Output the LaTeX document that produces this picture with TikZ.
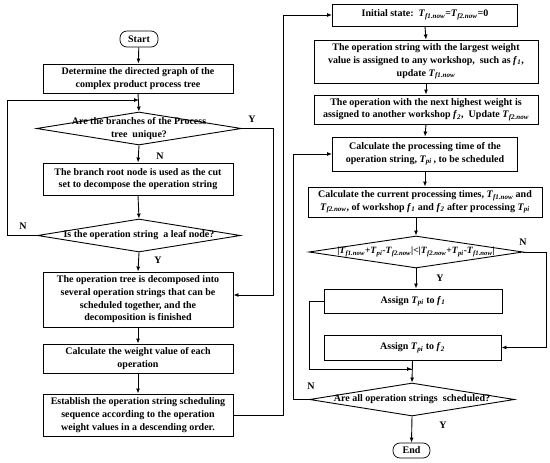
\documentclass[tikz,border=0pt]{standalone}
\usepackage{fontspec}
\setmainfont{Liberation Serif}
\usetikzlibrary{shapes.geometric,arrows.meta}
\newcommand\Tsb[1]{\textit{T}\textsubscript{\textit{#1}}}
\newcommand\fsb[1]{\textit{f}\textsubscript{\textit{#1}}}
\begin{document}
\begin{tikzpicture}[x=1pt,y=-1pt,
  every node/.style={font=\bfseries\fontsize{10}{12.7}\selectfont},
  box/.style={draw,line width=0.9pt,rectangle,inner sep=1pt,align=center},
  term/.style={draw,line width=0.7pt,rounded corners=7pt,inner sep=1pt},
  dia/.style={draw,line width=0.9pt,diamond,inner sep=0pt},
  txt/.style={inner sep=0pt,align=center},
  lab/.style={inner sep=0pt,font=\bfseries\fontsize{10}{12}\selectfont},
  arr/.style={line width=0.9pt,-{Latex[length=5pt,width=4pt]}},
  ln/.style={line width=0.9pt}]
\useasboundingbox (0,0) rectangle (550,463);
% left column
\node[term,minimum width=38pt,minimum height=16pt] (start) at (139,39) {Start};
\node[box,minimum width=190pt,minimum height=29pt] (b1) at (138,78.5) {Determine the directed graph of the\\complex product process tree};
\node[dia,minimum width=205pt,minimum height=33pt] (d1) at (139,128.5) {};
\node[txt] (d1t) at (139,128.5) {Are the branches of the Process\\tree\ \ unique?};
\node[box,minimum width=190pt,minimum height=32pt] (b2) at (138,179) {The branch root node is used as the cut\\set to decompose the operation string};
\node[dia,minimum width=203pt,minimum height=33pt] (d2) at (139,235.5) {};
\node[txt] (d2t) at (139,235.5) {Is the operation string\ \ a leaf node?};
\node[box,minimum width=190pt,minimum height=55pt] (b3) at (138,299.5) {The operation tree is decomposed into\\several operation strings that can be\\scheduled together, and the\\decomposition is finished};
\node[box,minimum width=190pt,minimum height=29pt] (b4) at (138,358.5) {Calculate the weight value of each\\operation};
\node[box,minimum width=190pt,minimum height=42pt] (b5) at (138,415) {Establish the operation string scheduling\\sequence according to the operation\\weight values in a descending order.};
% right column
\node[box,minimum width=185pt,minimum height=22pt] (r1) at (425,15) {Initial state:\enspace\Tsb{f1.now}=\Tsb{f2.now}=0};
\node[box,minimum width=224pt,minimum height=43pt] (r2) at (426,61.5) {The operation string with the largest weight\\value is assigned to any workshop,\enspace such as \fsb{1},\\update \Tsb{f1.now}};
\node[box,minimum width=224pt,minimum height=29pt] (r3) at (426,109.5) {The operation with the next highest weight is\\assigned to another workshop \fsb{2},\enspace Update \Tsb{f2.now}};
\node[box,minimum width=185pt,minimum height=34pt] (r4) at (425,154) {Calculate the processing time of the\\operation string, \Tsb{pi}\,, to be scheduled};
\node[box,minimum width=234pt,minimum height=30pt] (r5) at (425,202) {Calculate the current processing times, \Tsb{f1.now} and\\\Tsb{f2.now}, of workshop \fsb{1} and \fsb{2} after processing \Tsb{pi}};
\node[dia,minimum width=214pt,minimum height=32pt] (d3) at (416,252) {};
\node[txt,font=\bfseries\fontsize{9.6}{11}\selectfont] (d3t) at (416,252) {|\Tsb{f1.now}+\Tsb{pi}-\Tsb{f2.now}|<|\Tsb{f2.now}+\Tsb{pi}-\Tsb{f1.now}|};
\node[box,minimum width=178pt,minimum height=24pt] (r6) at (413,301) {Assign \Tsb{pi} to \fsb{1}};
\node[box,minimum width=177pt,minimum height=25pt] (r7) at (412.5,347.5) {Assign \Tsb{pi} to \fsb{2}};
\node[dia,minimum width=205pt,minimum height=33pt] (d4) at (412,399.5) {};
\node[txt] (d4t) at (412,399.5) {Are all operation strings\ \ scheduled?};
\node[term,minimum width=37pt,minimum height=15pt] (end) at (411.5,450.5) {End};
% coordinates
\coordinate (fb) at (139,100);
\coordinate (jn) at (412,369);
% connectors left
\draw[arr] (start) -- (b1);
\draw[arr] (b1.south) -- (d1.north);
\draw[arr] (d1.south) -- (b2.north);
\draw[arr] (b2.south) -- (d2.north);
\draw[arr] (d2.south) -- (b3.north);
\draw[arr] (b3.south) -- (b4.north);
\draw[arr] (b4.south) -- (b5.north);
\draw[arr] (d2.west) -- (7,235.5) |- (fb);
\draw[arr] (d1.east) -| (273,295) -- (b3.east |- 273,295);
\draw[arr] (b5.east) -- (283,415) |- (r1.west);
% connectors right
\draw[arr] (r1.south) -- (r2.north);
\draw[arr] (r2.south) -- (r3.north);
\draw[arr] (r3.south) -- (r4.north);
\draw[arr] (r4.south) -- (r5.north);
\draw[arr] (r5.south -| d3.north) -- (d3.north);
\draw[arr] (d3.south) -- (d3.south |- r6.north);
\draw[arr] (d3.east) -- (546,252) |- (r7.east);
\draw[ln] (r6.west) -- (309,301) |- (jn);
\draw[arr] (309,369) -- (jn);
\draw[arr] (r7.south) -- (d4.north);
\draw[arr] (d4.west) -- (293,399.5) |- (r4.west);
\draw[arr] (d4.south) -- (end.north);
% labels
\node[lab] (l1) at (252,119) {Y};
\node[lab] (l2) at (160,156) {N};
\node[lab] (l3) at (23,226) {N};
\node[lab] (l4) at (158,260) {Y};
\node[lab] (l5) at (523,242) {N};
\node[lab] (l6) at (440,278) {Y};
\node[lab] (l7) at (311,386) {N};
\node[lab] (l8) at (443,425) {Y};
\end{tikzpicture}
\end{document}
